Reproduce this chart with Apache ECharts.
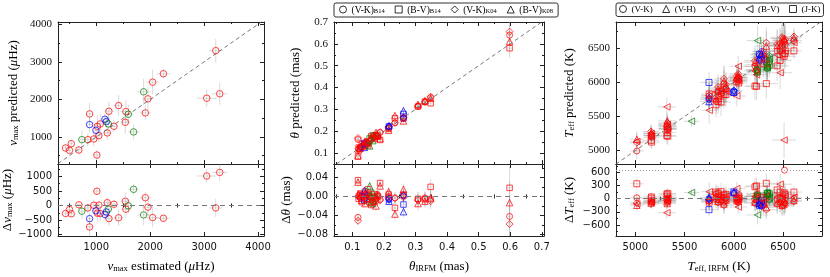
<!DOCTYPE html>
<html><head><meta charset="utf-8">
<script src="https://cdn.jsdelivr.net/npm/echarts@6/dist/echarts.min.js"></script>
<style>html,body{margin:0;padding:0;background:#fff}#c{width:830px;height:277px}</style>
</head><body><div id="c"></div>
<script>
// ---------------- Panel 1: nu_max ----------------
const nuEstRed   = [430,504,536,677,844,876,955,1011,1019,1048,1074,1204,1234,1327,1414,1538,1549,1910,1958,2045,2244,3048,3215,3289];
const nuPredRed  = [706,642,821,652,928,1614,946,519,1283,1035,1347,1107,1684,1283,1836,1390,1676,1641,2015,2459,2683,2031,3298,2149];
const nuDeltaRed = [-276,-138,-285,25,-84,-738,9,492,-264,13,-273,97,-450,44,-422,148,-127,269,-57,-414,-439,1017,-83,1140];
const nuXErrRed  = [30,35,40,45,50,55,60,60,60,70,70,80,80,80,90,90,100,100,110,120,120,185,124,140];
const nuYErrRed  = [100,90,110,120,170,300,200,130,300,160,260,180,250,150,280,300,300,200,300,330,130,230,310,290];
const nuEstBlue   = [876,993,1160,1186];
const nuPredBlue  = [1329,1177,1471,1409];
const nuDeltaBlue = [-453,-184,-311,-223];
const nuXErrBlue  = [50,60,70,70];
const nuYErrBlue  = [200,180,150,160];
const nuEstGreen   = [733,1223,1594,1692,1878];
const nuPredGreen  = [928,1347,1604,1134,2202];
const nuDeltaGreen = [-195,-124,-10,558,-324];
const nuXErrGreen  = [50,70,90,100,120];
const nuYErrGreen  = [260,280,250,200,350];

// ---------------- Panel 2: theta ----------------
const thIRFM  = [0.118,0.120,0.125,0.130,0.138,0.140,0.145,0.155,0.150,0.165,0.160,0.170,0.175,0.180,0.188,0.215,0.216,0.235,0.262,0.262,0.308,0.330,0.348,0.598];
const thColor = ['r','r','r','r','b','r','r','g','r','g','r','r','r','r','r','r','b','r','r','b','r','r','r','r'];
const thPredVKB14 = [0.162,0.118,0.128,0.126,0.142,0.134,0.151,0.153,0.142,0.175,0.162,0.170,0.179,0.176,0.194,0.215,0.220,0.238,0.261,0.259,0.314,0.333,0.354,0.640];
const thPredBVB14 = [0.084,0.125,0.119,0.142,0.146,0.130,0.143,0.167,0.135,0.181,0.178,0.165,0.183,0.180,0.160,0.211,0.222,0.259,0.258,0.279,0.313,0.336,0.328,0.580];
const thPredVKK04 = [0.169,0.120,0.129,0.128,0.144,0.136,0.153,0.155,0.145,0.177,0.164,0.172,0.181,0.178,0.196,0.217,0.222,0.239,0.264,0.261,0.316,0.335,0.358,0.656];
const thPredBVK08 = [0.088,0.115,0.123,0.138,0.126,0.155,0.149,0.133,0.150,0.157,0.172,0.180,0.195,0.177,0.166,0.205,0.226,0.272,0.247,0.294,0.323,0.340,0.351,0.611];
const thDVKB14 = [-0.044,0.002,-0.003,0.004,-0.004,0.006,-0.006,0.002,0.008,-0.010,-0.002,0.000,-0.004,0.004,-0.006,0.000,-0.004,-0.003,0.001,0.003,-0.006,-0.003,-0.006,-0.042];
const thDBVB14 = [0.034,-0.005,0.006,-0.012,-0.008,0.010,0.002,-0.012,0.015,-0.016,-0.018,0.005,-0.008,0.000,0.028,0.004,-0.006,-0.024,0.004,-0.017,-0.005,-0.006,0.020,0.018];
const thDVKK04 = [-0.051,0.000,-0.004,0.002,-0.006,0.004,-0.008,0.000,0.005,-0.012,-0.004,-0.002,-0.006,0.002,-0.008,-0.002,-0.006,-0.004,-0.002,0.001,-0.008,-0.005,-0.010,-0.058];
const thDBVK08 = [0.030,0.005,0.002,-0.008,0.012,-0.015,-0.004,0.022,0.000,0.008,-0.012,-0.010,-0.020,0.003,0.022,0.010,-0.010,-0.037,0.015,-0.032,-0.015,-0.010,-0.003,-0.013];
const thXErr = [0.003,0.003,0.003,0.003,0.003,0.003,0.003,0.004,0.003,0.004,0.003,0.004,0.004,0.004,0.004,0.004,0.004,0.005,0.005,0.005,0.005,0.005,0.005,0.006];
const thYErr = [0.008,0.008,0.008,0.008,0.008,0.008,0.008,0.010,0.008,0.010,0.009,0.009,0.010,0.010,0.010,0.010,0.010,0.012,0.012,0.012,0.014,0.014,0.016,0.045];

// ---------------- Panel 3: Teff ----------------
const tIRFM  = [5015,5165,5160,5320,5325,5330,5570,5750,5748,5820,5840,5870,5900,5920,6000,6030,6045,6050,6215,6230,6240,6260,6280,6300,6330,6340,6360,6440,6470,6490,6510,6520,6610];
const tColor = ['r','r','r','r','r','r','g','r','b','r','r','r','r','r','b','r','r','r','r','r','g','b','b','r','r','g','g','r','r','r','r','r','r'];
const tPredVK = [4995,5195,5220,5320,5365,5310,null,5800,5748,5720,5860,5830,5980,5900,5870,6030,6075,6030,6235,6180,6140,6320,6380,6350,6330,6200,6300,6460,6460,6540,6590,6550,6610];
const tPredVH = [5165,5225,5260,5390,5435,5350,null,5780,5718,5760,5900,5880,6020,5950,5860,6070,6105,6060,6295,6230,6160,6360,6420,6420,6530,6240,6360,6540,6530,6640,6640,6610,6650];
const tPredVJ = [5115,5245,5280,5360,5405,5330,null,5810,5768,5780,5930,5900,6050,5970,5880,6090,6125,6070,6315,6260,6180,6400,6450,6450,6580,6260,6390,6560,6560,6660,6610,6630,6670];
const tPredBV = [5135,5215,5250,5640,5385,5320,5430,5590,null,5860,5760,5840,5910,5870,null,5800,6235,6020,6165,6110,6610,null,null,6380,6270,6210,6340,6400,6140,6410,5154,6460,6580];
const tPredJK = [4675,5125,5150,5220,5265,5210,null,5830,5998,5670,5720,5710,5820,5820,5850,6010,6045,5990,5945,5940,6180,6410,6330,6270,5980,6220,6250,6240,6320,6490,6380,6420,6460];
const tDVK = [20,-30,-60,0,-40,20,null,-50,0,100,-20,40,-80,20,130,0,-30,20,-20,50,100,-60,-100,-50,0,140,60,-20,10,-50,-80,-30,0];
const tDVH = [-150,-60,-100,-70,-110,-20,null,-30,30,60,-60,-10,-120,-30,140,-40,-60,-10,-80,0,80,-100,-140,-120,-200,100,0,-100,-60,-150,-130,-90,-40];
const tDVJ = [-100,-80,-120,-40,-80,0,null,-60,-20,40,-90,-30,-150,-50,120,-60,-80,-20,-100,-30,60,-140,-170,-150,-250,80,-30,-120,-90,-170,-100,-110,-60];
const tDBV = [-120,-50,-90,-320,-60,10,140,160,null,-40,80,30,-10,50,null,230,-190,30,50,120,-370,null,null,-80,60,130,20,40,330,80,1356,60,30];
const tDJK = [340,40,10,100,60,120,null,-80,-250,150,120,160,80,100,150,20,0,60,270,290,60,-150,-50,30,350,120,110,200,150,0,130,100,150];
const tXErr = [70,80,80,90,90,90,80,80,90,100,100,100,100,100,80,90,90,90,110,110,110,90,90,110,120,100,100,120,120,120,120,120,80];
const tYErr = [120,100,110,130,120,120,80,200,150,180,180,200,200,180,90,150,150,150,200,200,220,150,150,200,220,180,180,220,240,220,260,220,120];
const tOutlierX = [6514];
const tOutlierY = [650];

// ---------------- Ticks ----------------
const p1XMajor = [1000,2000,3000,4000], p1XMinor = [500,1500,2500,3500];
const p1YMajor = [1000,2000,3000,4000], p1YMinor = [500,1500,2500,3500];
const p1DMajor = [-1000,-500,0,500,1000], p1DMinor = [-750,-250,250,750,1250];
const p2XMajor = [0.1,0.2,0.3,0.4,0.5,0.6,0.7], p2XMinor = [0.05,0.15,0.25,0.35,0.45,0.55,0.65];
const p2YMajor = [0.1,0.2,0.3,0.4,0.5,0.6,0.7], p2YMinor = [0.15,0.25,0.35,0.45,0.55,0.65];
const p2DMajor = [-0.08,-0.04,0,0.04], p2DMinor = [-0.06,-0.02,0.02,0.06];
const p3XMajor = [5000,5500,6000,6500], p3XMinor = [5250,5750,6250,6750];
const p3YMajor = [5000,5500,6000,6500], p3YMinor = [5250,5750,6250,6750];
const p3DMajor = [-600,-300,0,300,600], p3DMinor = [-750,-450,-150,150,450,750];

// ---------------- Build ----------------
const COL = {r:'rgba(255,0,0,0.9)', b:'rgba(0,0,255,0.9)', g:'rgba(0,128,0,0.9)'};
const SERIF = 'Liberation Serif', SANS = 'DejaVu Sans';
const ERRC = 'rgba(150,150,150,0.35)';
const LTRI = 'path://M0,5 L10,0 L10,10 Z';

const grids = [
  {left:58, top:22, width:206, height:142},
  {left:58, top:164, width:206, height:72},
  {left:334, top:22, width:210, height:142},
  {left:334, top:164, width:210, height:72},
  {left:616, top:22, width:206, height:142},
  {left:616, top:164, width:206, height:72}
];
const xAxes = [], yAxes = [];
const minus = s => String(s).replace('-', '\u2212');
function addAxis(list, grid, pos, min, max, majors, minors, label, name) {
  const mj = majors.filter(v => v >= min && v <= max), mn = minors.filter(v => v >= min && v <= max);
  const a = {type:'value', gridIndex:grid, position:pos, min, max, offset:0,
    axisLine:{show:true, onZero:false, lineStyle:{color:'#222', width:1}},
    splitLine:{show:false},
    axisTick:{show:true, inside:true, length:4, customValues:mj, lineStyle:{color:'#222', width:1}},
    axisLabel: label ? Object.assign({show:true, customValues:mj}, label) : {show:false}
  };
  if (name) Object.assign(a, name);
  list.push(a);
  const idx = list.length - 1;
  list.push({type:'value', gridIndex:grid, position:pos, min, max, offset:0,
    axisLine:{show:false}, splitLine:{show:false},
    axisTick:{show:true, inside:true, length:2, customValues:mn, lineStyle:{color:'#222', width:1}},
    axisLabel:{show:false}});
  return idx;
}
const richName = {
  n:{fontFamily:SERIF, fontSize:13, color:'#000', verticalAlign:'bottom', lineHeight:15},
  i:{fontFamily:SERIF, fontSize:13, fontStyle:'italic', color:'#000', verticalAlign:'bottom', lineHeight:15},
  s:{fontFamily:SERIF, fontSize:8.5, color:'#000', verticalAlign:'bottom', lineHeight:6}
};
function yName(text, gap){ return {name:text, nameLocation:'middle', nameGap:gap, nameRotate:90, nameTextStyle:{rich:richName}}; }
function xName(text, gap){ return {name:text, nameLocation:'middle', nameGap:gap, nameTextStyle:{rich:richName}}; }
const serifLbl = f => ({fontFamily:SERIF, fontSize:11, color:'#111', margin:6, formatter:f});
const sansLbl  = f => ({fontFamily:SANS, fontSize:10, color:'#111', margin:6, formatter:f});

const AX = {};
function panelAxes(key, gTop, gBot, xr, yr, dr, xMaj, xMin, yMaj, yMin, dMaj, dMin, xFmt, yFmt, dFmt, names, gaps) {
  AX[key+'tx'] = addAxis(xAxes, gTop, 'bottom', xr[0], xr[1], xMaj, xMin, null);
  addAxis(xAxes, gTop, 'top', xr[0], xr[1], xMaj, xMin, null);
  AX[key+'ty'] = addAxis(yAxes, gTop, 'left', yr[0], yr[1], yMaj, yMin, serifLbl(yFmt), yName(names[0], gaps[0]));
  addAxis(yAxes, gTop, 'right', yr[0], yr[1], yMaj, yMin, null);
  AX[key+'bx'] = addAxis(xAxes, gBot, 'bottom', xr[0], xr[1], xMaj, xMin, sansLbl(xFmt), xName(names[2], gaps[2]));
  addAxis(xAxes, gBot, 'top', xr[0], xr[1], xMaj, xMin, null);
  AX[key+'by'] = addAxis(yAxes, gBot, 'left', dr[0], dr[1], dMaj, dMin, sansLbl(dFmt), yName(names[1], gaps[1]));
  addAxis(yAxes, gBot, 'right', dr[0], dr[1], dMaj, dMin, null);
}
panelAxes('p1', 0, 1, [290,4110], [280,4060], [-1050,1430], p1XMajor, p1XMinor, p1YMajor, p1YMinor, p1DMajor, p1DMinor,
  v => String(v), v => String(v), v => minus(v),
  ['{i|ν}{s|max}{n| predicted (}{i|μ}{n|Hz)}', '{n|Δ}{i|ν}{s|max}{n| (}{i|μ}{n|Hz)}', '{i|ν}{s|max}{n| estimated (}{i|μ}{n|Hz)}'], [38, 39, 22]);
panelAxes('p2', 2, 3, [0.042,0.707], [0.05,0.70], [-0.083,0.068], p2XMajor, p2XMinor, p2YMajor, p2YMinor, p2DMajor, p2DMinor,
  v => v.toFixed(1), v => v.toFixed(1), v => minus(v.toFixed(2)),
  ['{i|θ}{n| predicted (mas)}', '{n|Δ}{i|θ}{n| (mas)}', '{i|θ}{s|IRFM}{n| (mas)}'], [32, 36, 22]);
panelAxes('p3', 4, 5, [4804,6895], [4804,6882], [-850,790], p3XMajor, p3XMinor, p3YMajor, p3YMinor, p3DMajor, p3DMinor,
  v => String(v), v => String(v), v => minus(v),
  ['{i|T}{s|eff}{n| predicted (K)}', '{n|Δ}{i|T}{s|eff}{n| (K)}', '{i|T}{s|eff, IRFM}{n| (K)}'], [40, 40, 22]);

const series = [];
function errSeries(xi, yi, pts) {
  series.push({type:'custom', xAxisIndex:xi, yAxisIndex:yi, silent:true, z:1, animation:false,
    data: pts, encode:{x:0, y:1},
    renderItem(params, api) {
      const x = api.value(0), y = api.value(1), xe = api.value(2), ye = api.value(3);
      const l = api.coord([x - xe, y]), r = api.coord([x + xe, y]);
      const t = api.coord([x, y + ye]), b = api.coord([x, y - ye]);
      const cs = params.coordSys;
      return {type:'group', clipPath:{type:'rect', shape:{x:cs.x, y:cs.y, width:cs.width, height:cs.height}},
        children:[
          {type:'line', shape:{x1:l[0], y1:l[1], x2:r[0], y2:r[1]}, style:{stroke:ERRC, lineWidth:1}},
          {type:'line', shape:{x1:b[0], y1:b[1], x2:t[0], y2:t[1]}, style:{stroke:ERRC, lineWidth:1}}
        ]};
    }});
}
function scat(xi, yi, pts, symbol, size) {
  series.push({type:'scatter', xAxisIndex:xi, yAxisIndex:yi, symbol, symbolSize:size, z:3, clip:true, silent:true,
    data: pts, itemStyle:{color:'transparent', borderWidth:1}});
}
const item = (x, y, c) => ({value:[x, y], itemStyle:{color:'transparent', borderColor:COL[c], borderWidth:1}});

// Panel 1
const p1Groups = [
  [nuEstRed, nuPredRed, nuDeltaRed, nuXErrRed, nuYErrRed, 'r'],
  [nuEstBlue, nuPredBlue, nuDeltaBlue, nuXErrBlue, nuYErrBlue, 'b'],
  [nuEstGreen, nuPredGreen, nuDeltaGreen, nuXErrGreen, nuYErrGreen, 'g']
];
p1Groups.forEach(([ex, pr, de, xe, ye]) => {
  errSeries(AX.p1tx, AX.p1ty, ex.map((v, i) => [v, pr[i], xe[i], ye[i]]));
  errSeries(AX.p1bx, AX.p1by, ex.map((v, i) => [v, de[i], xe[i], ye[i]]));
});
p1Groups.forEach(([ex, pr, de, xe, ye, c]) => {
  scat(AX.p1tx, AX.p1ty, ex.map((v, i) => item(v, pr[i], c)), 'circle', 6.5);
  scat(AX.p1bx, AX.p1by, ex.map((v, i) => item(v, de[i], c)), 'circle', 6.5);
});

// Panel 2
const p2Methods = [
  [thPredVKB14, thDVKB14, 'circle', 6],
  [thPredBVB14, thDBVB14, 'rect', 5.5],
  [thPredVKK04, thDVKK04, 'diamond', 7],
  [thPredBVK08, thDBVK08, 'triangle', 6.5]
];
p2Methods.forEach(([pr, de]) => {
  errSeries(AX.p2tx, AX.p2ty, thIRFM.map((v, i) => [v, pr[i], thXErr[i], thYErr[i]]));
  errSeries(AX.p2bx, AX.p2by, thIRFM.map((v, i) => [v, de[i], thXErr[i], thYErr[i]]));
});
p2Methods.forEach(([pr, de, sym, sz]) => {
  scat(AX.p2tx, AX.p2ty, thIRFM.map((v, i) => item(v, pr[i], thColor[i])), sym, sz);
  scat(AX.p2bx, AX.p2by, thIRFM.map((v, i) => item(v, de[i], thColor[i])), sym, sz);
});

// Panel 3
const p3Methods = [
  [tPredVK, tDVK, 'circle', 6],
  [tPredVH, tDVH, 'triangle', 6.5],
  [tPredVJ, tDVJ, 'diamond', 7],
  [tPredBV, tDBV, LTRI, 6.5],
  [tPredJK, tDJK, 'rect', 6]
];
p3Methods.forEach(([pr, de]) => {
  const top = [], bot = [];
  tIRFM.forEach((v, i) => { if (pr[i] != null) { top.push([v, pr[i], tXErr[i], tYErr[i]]); bot.push([v, de[i], tXErr[i], tYErr[i]]); } });
  errSeries(AX.p3tx, AX.p3ty, top);
  errSeries(AX.p3bx, AX.p3by, bot);
});
p3Methods.forEach(([pr, de, sym, sz]) => {
  const top = [], bot = [];
  tIRFM.forEach((v, i) => { if (pr[i] != null) { top.push(item(v, pr[i], tColor[i])); bot.push(item(v, de[i], tColor[i])); } });
  scat(AX.p3tx, AX.p3ty, top, sym, sz);
  scat(AX.p3bx, AX.p3by, bot, sym, sz);
});
scat(AX.p3bx, AX.p3by, tOutlierX.map((v, i) => item(v, tOutlierY[i], 'r')), 'circle', 6);

// Reference lines
function refLine(xi, yi, data, lineStyle) {
  series.push({type:'scatter', xAxisIndex:xi, yAxisIndex:yi, data:[], silent:true, z:2,
    markLine:{symbol:'none', silent:true, animation:false, label:{show:false}, lineStyle, data}});
}
const dashDiag = {color:'#555', width:0.8, type:[4,3]};
const dashZero = {color:'#777', width:1.2, type:[5,4]};
refLine(AX.p1tx, AX.p1ty, [[{coord:[290,290]},{coord:[4060,4060]}]], dashDiag);
refLine(AX.p2tx, AX.p2ty, [[{coord:[0.05,0.05]},{coord:[0.70,0.70]}]], dashDiag);
refLine(AX.p3tx, AX.p3ty, [[{coord:[4804,4804]},{coord:[6882,6882]}]], dashDiag);
refLine(AX.p1bx, AX.p1by, [{yAxis:0}], dashZero);
refLine(AX.p2bx, AX.p2by, [{yAxis:0}], dashZero);
refLine(AX.p3bx, AX.p3by, [{yAxis:0}], dashZero);
refLine(AX.p3bx, AX.p3by, [{yAxis:650}], {color:'#999', width:1, type:[1,2]});

// Legend dummy series
const leg2 = [['L2a','circle','{n|(V-K)}{s|B14}'],['L2b','rect','{n|(B-V)}{s|B14}'],['L2c','diamond','{n|(V-K)}{s|K04}'],['L2d','triangle','{n|(B-V)}{s|K08}']];
const leg3 = [['L3a','circle','{m|(V-K)}'],['L3b','triangle','{m|(V-H)}'],['L3c','diamond','{m|(V-J)}'],['L3d',LTRI,'{m|(B-V)}'],['L3e','rect','{m|(J-K)}']];
const legMap = {};
[...leg2, ...leg3].forEach(([n, ic, t], k) => {
  legMap[n] = t;
  series.push({type:'scatter', name:n, xAxisIndex:k < 4 ? AX.p2tx : AX.p3tx, yAxisIndex:k < 4 ? AX.p2ty : AX.p3ty,
    data:[], symbol:ic, itemStyle:{color:'transparent', borderColor:'#000', borderWidth:1}});
});
const legRich = {
  n:{fontFamily:SERIF, fontSize:9.5, color:'#000', verticalAlign:'bottom', lineHeight:11},
  m:{fontFamily:SERIF, fontSize:9, color:'#000', verticalAlign:'bottom', lineHeight:11},
  s:{fontFamily:SERIF, fontSize:6.5, color:'#000', verticalAlign:'bottom', lineHeight:5}
};
function legend(items, left, gap, pad) {
  return {left, top:3, width:400, orient:'horizontal', itemWidth:7, itemHeight:7, itemGap:gap, itemTextGap:4, padding:pad,
    borderColor:'#333', borderWidth:1, borderRadius:2, selectedMode:false,
    data: items.map(([n, ic]) => ({name:n, icon:ic})),
    formatter: n => legMap[n],
    itemStyle:{color:'transparent', borderColor:'#000', borderWidth:1},
    textStyle:{fontFamily:SERIF, fontSize:9.5, color:'#000', rich:legRich}};
}

const chart = echarts.init(document.getElementById('c'), null, {renderer:'canvas'});
chart.setOption({
  animation:false,
  backgroundColor:'#fff',
  grid: grids,
  xAxis: xAxes,
  yAxis: yAxes,
  legend: [legend(leg2, 334, 10, [2,5,2,5]), legend(leg3, 616, 9.5, [2,3,2,3])],
  series
});
</script></body></html>
